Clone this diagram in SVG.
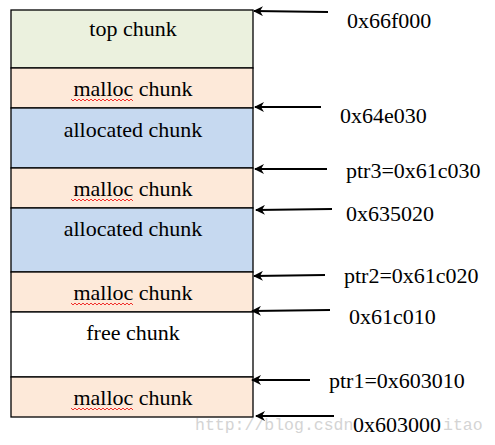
<svg xmlns="http://www.w3.org/2000/svg" width="495" height="445" viewBox="0 0 495 445">
<style>
.cell{stroke:#000;stroke-width:1.3}
.arr{stroke:#000;stroke-width:2;fill:none;marker-end:url(#ah)}
.sq{stroke:#e00;stroke-width:0.8;fill:none}
</style>
<defs>
<marker id="ah" viewBox="0 0 10 10" refX="9" refY="5" markerWidth="5" markerHeight="5" orient="auto" markerUnits="strokeWidth">
<path d="M0,0 L10,5 L0,10 L3,5 Z" fill="#000"/>
</marker>
<path id="squig" d="M0,0 l2,2 l2,-2 l2,2 l2,-2 l2,2 l2,-2 l2,2 l2,-2 l2,2 l2,-2 l2,2 l2,-2 l2,2 l2,-2 l2,2 l2,-2 l2,2 l2,-2 l2,2 l2,-2 l2,2 l2,-2 l2,2 l2,-2 l2,2 l2,-2 l2,2 l2,-2 l2,2 l2,-2 l2,2"/>
</defs>
<rect width="495" height="445" fill="#fff"/>
<text x="195" y="430" font-family="Liberation Mono" font-size="16.5" fill="#d4d4d4">http://blog.csdn</text>
<text x="443" y="430" font-family="Liberation Mono" font-size="16.5" fill="#d4d4d4">itao</text>
<g id="top-chunk">
<rect class="cell" x="11" y="10" width="242" height="58" fill="#ebf1de"/>
<text x="133" y="36" font-family="Liberation Serif" font-size="22" text-anchor="middle">top chunk</text>
</g>
<g id="malloc-chunk-4">
<rect class="cell" x="11" y="68" width="242" height="40" fill="#fde9d9"/>
<text x="133" y="96" font-family="Liberation Serif" font-size="22" text-anchor="middle">malloc chunk</text>
<use href="#squig" class="sq" x="71" y="99"/>
</g>
<g id="allocated-chunk-2">
<rect class="cell" x="11" y="108" width="242" height="60" fill="#c6d9f0"/>
<text x="133" y="137" font-family="Liberation Serif" font-size="22" text-anchor="middle">allocated chunk</text>
</g>
<g id="malloc-chunk-3">
<rect class="cell" x="11" y="168" width="242" height="40" fill="#fde9d9"/>
<text x="133" y="196" font-family="Liberation Serif" font-size="22" text-anchor="middle">malloc chunk</text>
<use href="#squig" class="sq" x="71" y="199"/>
</g>
<g id="allocated-chunk-1">
<rect class="cell" x="11" y="208" width="242" height="64" fill="#c6d9f0"/>
<text x="133" y="236" font-family="Liberation Serif" font-size="22" text-anchor="middle">allocated chunk</text>
</g>
<g id="malloc-chunk-2">
<rect class="cell" x="11" y="272" width="242" height="40" fill="#fde9d9"/>
<text x="133" y="300" font-family="Liberation Serif" font-size="22" text-anchor="middle">malloc chunk</text>
<use href="#squig" class="sq" x="71" y="303"/>
</g>
<g id="free-chunk">
<rect class="cell" x="11" y="312" width="242" height="65" fill="#fff"/>
<text x="133" y="340" font-family="Liberation Serif" font-size="22" text-anchor="middle">free chunk</text>
</g>
<g id="malloc-chunk-1">
<rect class="cell" x="11" y="377" width="242" height="40" fill="#fde9d9"/>
<text x="133" y="405" font-family="Liberation Serif" font-size="22" text-anchor="middle">malloc chunk</text>
<use href="#squig" class="sq" x="71" y="408"/>
</g>
<g id="connectors">
<line class="arr" x1="328" y1="12" x2="254" y2="11"/>
<line class="arr" x1="321" y1="107" x2="255" y2="107"/>
<line class="arr" x1="327" y1="169" x2="255" y2="169"/>
<line class="arr" x1="332" y1="209" x2="256" y2="210"/>
<line class="arr" x1="325" y1="275" x2="254" y2="276"/>
<line class="arr" x1="330" y1="310" x2="252" y2="311"/>
<line class="arr" x1="310" y1="380" x2="252" y2="380"/>
<line class="arr" x1="334" y1="416" x2="256" y2="416"/>
</g>
<g id="labels">
<text x="347" y="28" font-family="Liberation Serif" font-size="22">0x66f000</text>
<text x="340" y="123" font-family="Liberation Serif" font-size="22">0x64e030</text>
<text x="346" y="178" font-family="Liberation Serif" font-size="22">ptr3=0x61c030</text>
<text x="346" y="221" font-family="Liberation Serif" font-size="22">0x635020</text>
<text x="344" y="283" font-family="Liberation Serif" font-size="22">ptr2=0x61c020</text>
<text x="349" y="324" font-family="Liberation Serif" font-size="22">0x61c010</text>
<text x="329" y="388" font-family="Liberation Serif" font-size="22">ptr1=0x603010</text>
<text x="353" y="432" font-family="Liberation Serif" font-size="22">0x603000</text>
</g>
</svg>
